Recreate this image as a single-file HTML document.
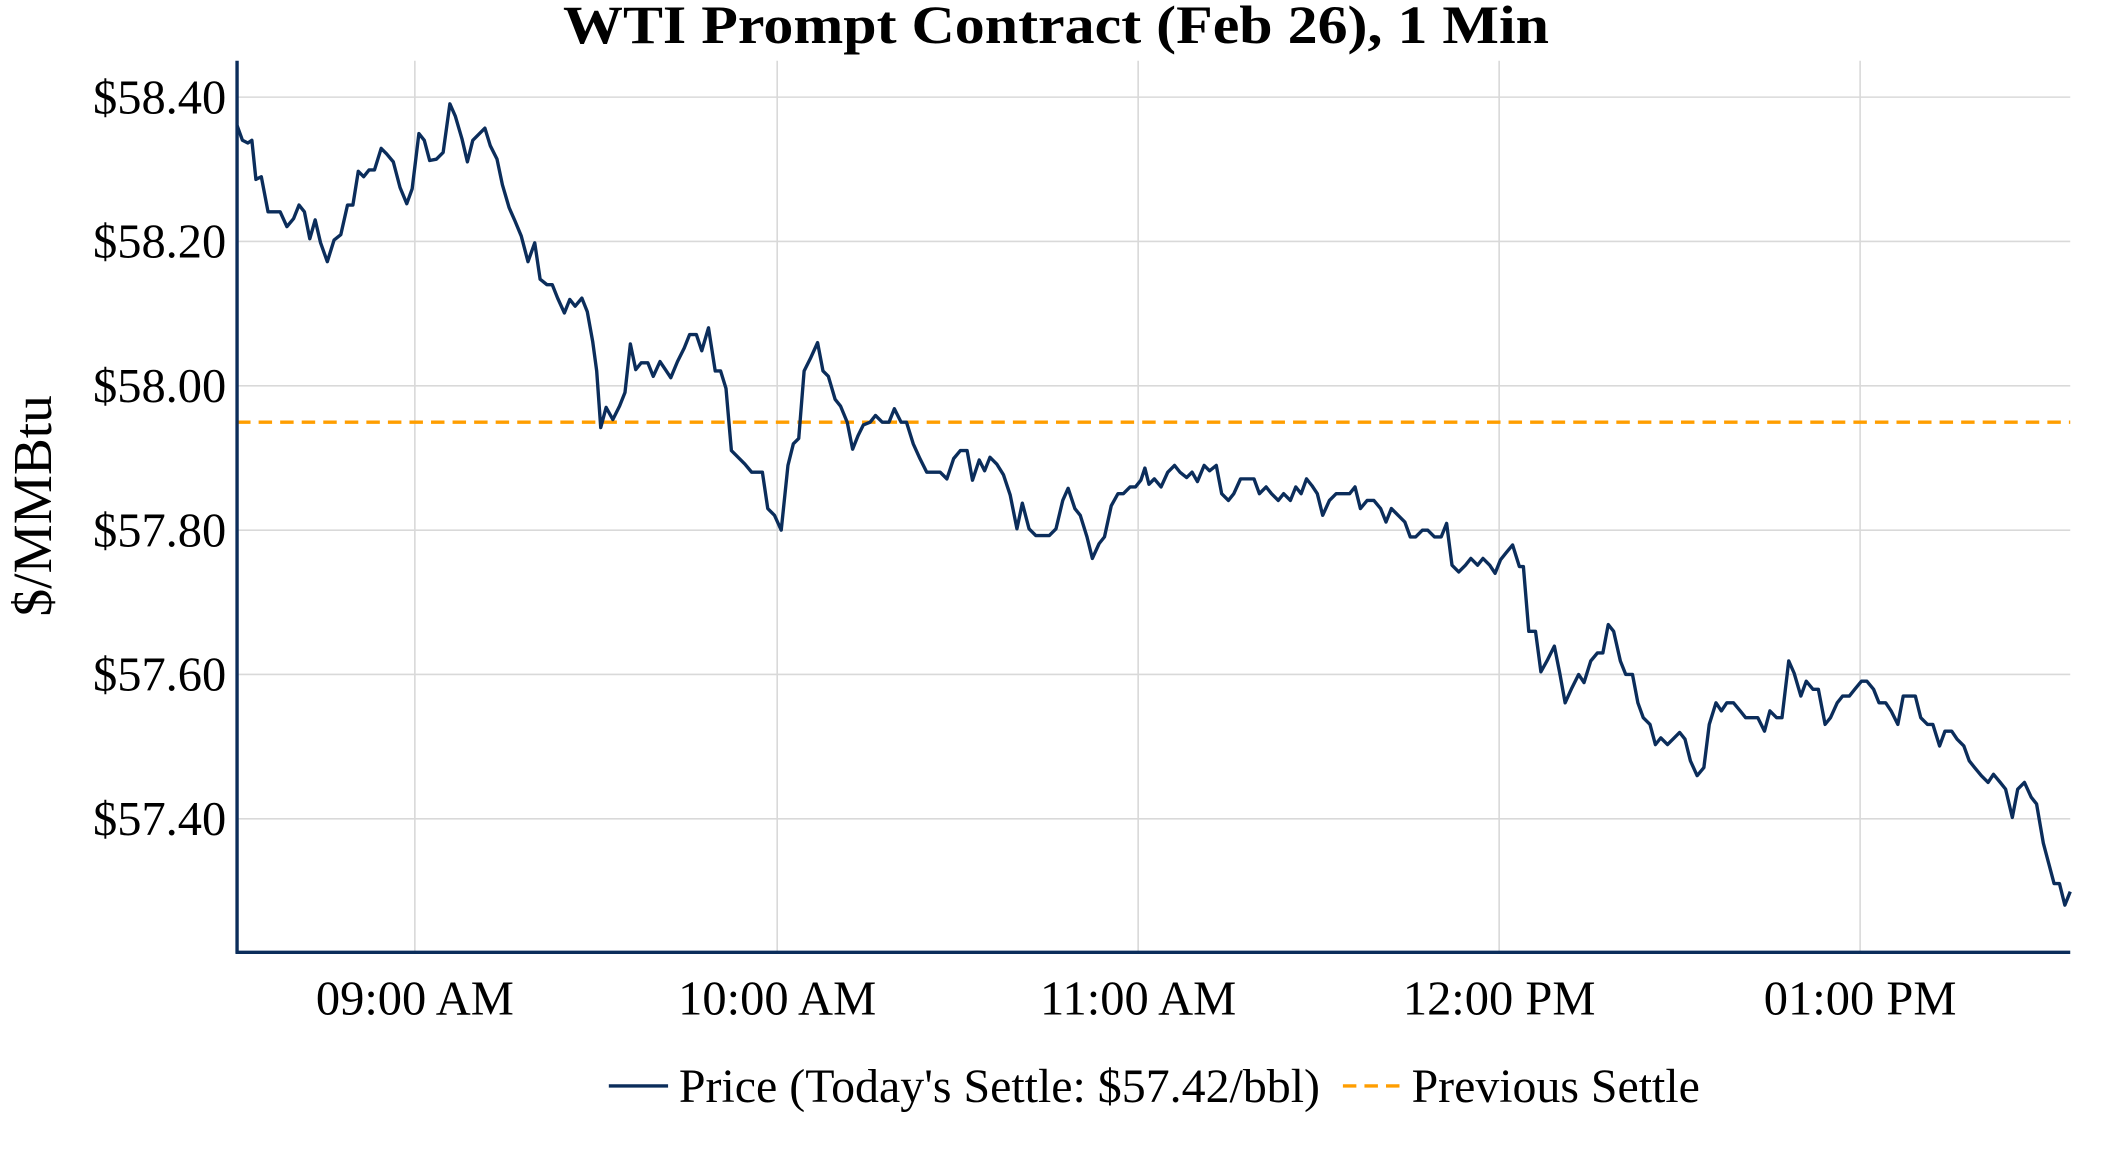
<!DOCTYPE html>
<html><head><meta charset="utf-8"><style>
html,body{margin:0;padding:0;background:#fff;}
svg{display:block;}
text{font-family:"Liberation Serif",serif;}
</style></head><body>
<svg width="2112" height="1152" viewBox="0 0 1568 854" preserveAspectRatio="none" xmlns="http://www.w3.org/2000/svg">
<rect width="1568" height="854" fill="#fff"/>
<g stroke="#d9d9d9" stroke-width="1.2">
<line x1="176" x2="1537" y1="72" y2="72"/>
<line x1="176" x2="1537" y1="179" y2="179"/>
<line x1="176" x2="1537" y1="286" y2="286"/>
<line x1="176" x2="1537" y1="393" y2="393"/>
<line x1="176" x2="1537" y1="500" y2="500"/>
<line x1="176" x2="1537" y1="607" y2="607"/>
<line x1="308" x2="308" y1="45" y2="706"/>
<line x1="577" x2="577" y1="45" y2="706"/>
<line x1="845" x2="845" y1="45" y2="706"/>
<line x1="1113" x2="1113" y1="45" y2="706"/>
<line x1="1381" x2="1381" y1="45" y2="706"/>
</g>
<line x1="176" x2="1537" y1="313" y2="313" stroke="#ff9e00" stroke-width="2.5" stroke-dasharray="10,6"/>
<polyline fill="none" stroke="#0b2d5b" stroke-width="2.5" stroke-linejoin="round" points="176,93 180,104 184,106 187,104 190,133 194,131 199,157 208,157 213,168 218,162 222,152 226,157 230,177 234,163 238,180 243,194 248,178 253,174 258,152 262,152 266,127 270,131 274,126 278,126 283,110 287,114 292,120 297,139 302,151 306,140 311,99 315,104 319,119 324,118 329,113 334,77 338,86 343,103 347,120 351,104 356,99 360,95 364,108 369,118 373,137 378,154 382,163 387,175 392,194 397,180 401,207 406,211 410,211 414,221 419,232 423,222 427,227 432,221 436,231 440,253 443,275 446,317 450,302 455,311 460,301 464,291 468,255 472,274 476,269 481,269 485,279 490,268 494,274 498,280 503,268 508,258 512,248 517,248 521,260 526,243 531,275 535,275 539,288 543,334 548,339 553,344 558,350 562,350 566,350 570,377 575,382 580,393 585,345 589,329 593,325 597,275 602,265 607,254 611,275 615,279 620,296 624,301 629,313 633,333 637,323 641,315 646,313 650,308 655,313 660,313 664,303 669,313 673,313 678,329 683,340 688,350 693,350 698,350 703,355 708,340 713,334 718,334 722,356 727,341 731,349 735,339 740,344 745,352 750,367 755,392 759,373 764,392 769,397 774,397 779,397 784,392 789,371 793,362 798,377 802,382 807,398 811,414 816,403 820,398 825,375 830,366 834,366 839,361 843,361 847,356 850,347 853,359 857,355 862,361 867,350 872,345 876,350 881,354 885,350 889,357 894,345 898,349 903,345 907,366 912,371 916,366 921,355 926,355 931,355 935,366 940,361 944,366 949,371 953,366 958,371 962,361 966,366 970,355 974,360 978,366 982,382 987,371 992,366 997,366 1002,366 1006,361 1010,377 1015,371 1020,371 1025,377 1029,387 1033,377 1038,382 1043,387 1047,398 1051,398 1056,393 1060,393 1065,398 1070,398 1074,388 1078,419 1083,424 1088,419 1092,414 1097,419 1101,414 1106,419 1110,425 1114,415 1118,410 1123,404 1128,420 1131,420 1135,468 1140,468 1144,498 1149,489 1154,479 1158,499 1162,521 1167,510 1172,500 1176,506 1181,490 1186,484 1190,484 1194,463 1198,468 1203,490 1207,500 1212,500 1216,521 1220,532 1225,537 1229,552 1233,547 1238,552 1242,548 1247,543 1251,548 1255,564 1260,575 1265,569 1269,537 1274,521 1278,527 1282,521 1287,521 1292,527 1296,532 1301,532 1305,532 1310,542 1314,527 1319,532 1323,532 1328,490 1332,499 1337,516 1341,505 1346,511 1350,511 1355,537 1359,532 1364,521 1368,516 1373,516 1377,511 1382,505 1386,505 1391,511 1395,521 1400,521 1404,527 1409,537 1413,516 1418,516 1422,516 1426,532 1431,537 1435,537 1440,553 1444,542 1449,542 1453,548 1458,553 1462,564 1466,569 1471,575 1476,580 1480,574 1485,580 1489,585 1494,606 1498,585 1503,580 1508,591 1512,596 1517,625 1521,640 1525,655 1529,655 1533,671 1537,661"/>
<line x1="176" x2="176" y1="45" y2="707" stroke="#0b2d5b" stroke-width="2.5"/>
<line x1="175" x2="1537" y1="706" y2="706" stroke="#0b2d5b" stroke-width="2.5"/>
<g font-size="36" fill="#000" text-anchor="end">
<text x="168" y="84">$58.40</text>
<text x="168" y="191">$58.20</text>
<text x="168" y="298">$58.00</text>
<text x="168" y="405">$57.80</text>
<text x="168" y="512">$57.60</text>
<text x="168" y="619">$57.40</text>
</g>
<g font-size="36" fill="#000" text-anchor="middle">
<text x="308" y="752">09:00 AM</text>
<text x="577" y="752">10:00 AM</text>
<text x="845" y="752">11:00 AM</text>
<text x="1113" y="752">12:00 PM</text>
<text x="1381" y="752">01:00 PM</text>
</g>
<text transform="translate(38,375) rotate(-90)" font-size="41" text-anchor="middle">$/MMBtu</text>
<text x="784" y="32" font-size="40" font-weight="bold" text-anchor="middle" textLength="732" lengthAdjust="spacingAndGlyphs">WTI Prompt Contract (Feb 26), 1 Min</text>
<line x1="452" x2="496" y1="805" y2="805" stroke="#0b2d5b" stroke-width="2.5"/>
<text x="504" y="817" font-size="35" textLength="476" lengthAdjust="spacingAndGlyphs">Price (Today's Settle: $57.42/bbl)</text>
<line x1="997" x2="1041" y1="805" y2="805" stroke="#ff9e00" stroke-width="2.5" stroke-dasharray="10,6"/>
<text x="1048" y="817" font-size="35" textLength="214" lengthAdjust="spacingAndGlyphs">Previous Settle</text>
</svg>
</body></html>
